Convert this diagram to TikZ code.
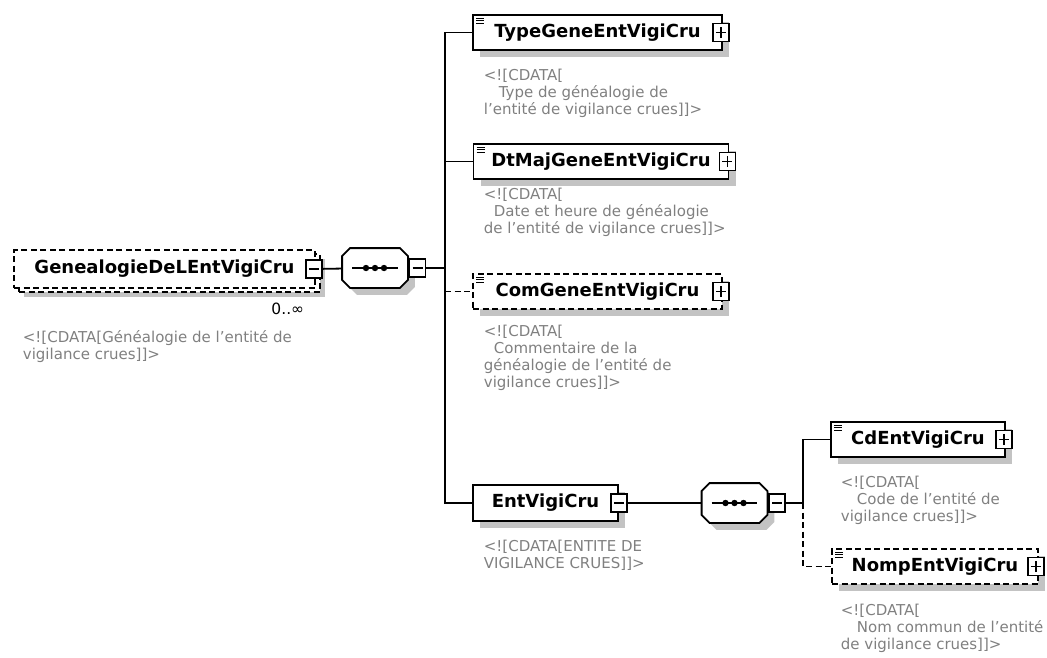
\documentclass[tikz,border=0pt]{standalone}
\usepackage{fontspec}
\setmainfont{DejaVu Sans}
\usetikzlibrary{positioning,shadows}

\definecolor{notegray}{RGB}{128,128,128}
\definecolor{shadegray}{RGB}{195,195,195}

% sequence compositor drawn round an empty node
\newcommand{\seqoutline}[1]{%
  \draw[fill=white, boxshadow] ([xshift=8]#1.north west) -- ([xshift=-8]#1.north east) -- ([yshift=-8]#1.north east) -- ([yshift=8]#1.south east) -- ([xshift=-8]#1.south east) -- ([xshift=8]#1.south west) -- ([yshift=8]#1.south west) -- ([yshift=-8]#1.north west) -- cycle;
  \draw ([xshift=10]#1.west) -- ([xshift=-10]#1.east);
  \foreach \d in {-9,0,9} \fill ([xshift=\d]#1.center) circle[radius=3.2];
}
% small mark of a simple element
\newcommand{\leafmark}[1]{%
  \draw[line width=1.2pt] \foreach \k in {4,6.5,9} {([shift={(4,\k)}]#1.north west) -- ++(8,0)};
}

\begin{document}
\begin{tikzpicture}[
    x=1pt, y=-1pt, line width=1.8pt,
    elem/.style={draw, fill=white, minimum height=35, inner sep=0pt, font=\bfseries\fontsize{18}{20}\selectfont},
    optelem/.style={elem, dash pattern=on 6pt off 3.5pt},
    boxshadow/.style={drop shadow={shadow xshift=7pt, shadow yshift=-7pt, fill=shadegray, opacity=1}},
    pmbox/.style={draw, fill=white, line width=1.5pt, minimum width=16, minimum height=18, inner sep=0pt},
    minusbox/.style={pmbox, path picture={\draw[line width=1.5pt] ([xshift=3]path picture bounding box.west) -- ([xshift=-3]path picture bounding box.east);}},
    plusbox/.style={pmbox, path picture={\draw[line width=1.5pt] ([xshift=3]path picture bounding box.west) -- ([xshift=-3]path picture bounding box.east) ([yshift=3.5]path picture bounding box.south) -- ([yshift=-3.5]path picture bounding box.north);}},
    seqnode/.style={minimum width=64, minimum height=38, inner sep=0pt},
    note/.style={anchor=north west, align=left, inner sep=0pt, text=notegray, font=\fontsize{15}{17}\selectfont},
    mult/.style={inner sep=0pt, font=\fontsize{15.5}{17}\selectfont},
    optline/.style={dash pattern=on 6pt off 3.5pt}
]
\useasboundingbox (0,0) rectangle (1047,657);

% root element
\node[optelem, minimum width=301, minimum height=38, drop shadow={shadow xshift=5pt, shadow yshift=-5pt, fill=shadegray, opacity=1}] (rootback) at (169.5,273) {};
\node[optelem, minimum width=301, minimum height=38] (root) at (164.5,269) {GenealogieDeLEntVigiCru};
\node[minusbox] (rootpm) at ([xshift=-2]root.east) {};
\node[mult, anchor=north east] (rootmult) at (305,302) {0..∞};
\node[note] (rootnote) at (22,330) {<![CDATA[Généalogie de l'entité de\\vigilance crues]]>};

% first sequence
\node[seqnode] (seq1) at (375,268) {};
\seqoutline{seq1}
\node[minusbox, right=1pt of seq1] (seq1pm) {};
\coordinate (bus1) at (445,268);

% children
\node[elem, boxshadow, minimum width=249] (typebox) at (597.5,32.5) {TypeGeneEntVigiCru};
\leafmark{typebox}
\node[plusbox] (typepm) at ([xshift=-2]typebox.east) {};
\node[note] (typenote) at (483,68) {<![CDATA[\\\hspace*{15pt}Type de généalogie de\\l'entité de vigilance crues]]>};

\node[elem, boxshadow, minimum width=255] (dtmajbox) at (601,161.5) {DtMajGeneEntVigiCru};
\leafmark{dtmajbox}
\node[plusbox] (dtmajpm) at ([xshift=-2]dtmajbox.east) {};
\node[note] (dtmajnote) at (483,187) {<![CDATA[\\\hspace*{10pt}Date et heure de généalogie\\de l'entité de vigilance crues]]>};

\node[optelem, boxshadow, minimum width=249] (comgenebox) at (597.5,291.5) {ComGeneEntVigiCru};
\leafmark{comgenebox}
\node[plusbox] (comgenepm) at ([xshift=-2]comgenebox.east) {};
\node[note] (comgenenote) at (483,324) {<![CDATA[\\\hspace*{10pt}Commentaire de la\\généalogie de l'entité de\\vigilance crues]]>};

\node[elem, boxshadow, minimum width=145, minimum height=36] (entvbox) at (545.5,503) {EntVigiCru};
\node[minusbox] (entvpm) at (entvbox.east) {};
\node[note] (entvnote) at (483,539) {<![CDATA[ENTITE DE\\VIGILANCE CRUES]]>};

% second sequence
\node[seqnode] (seq2) at (734.5,503) {};
\seqoutline{seq2}
\node[minusbox, right=1pt of seq2] (seq2pm) {};
\coordinate (bus2) at (803,503);

\node[elem, boxshadow, minimum width=174] (cdbox) at (918,439.5) {CdEntVigiCru};
\leafmark{cdbox}
\node[plusbox] (cdpm) at ([xshift=-2]cdbox.east) {};
\node[note] (cdnote) at (840,475) {<![CDATA[\\\hspace*{16pt}Code de l'entité de\\vigilance crues]]>};

\node[optelem, boxshadow, minimum width=206] (nompbox) at (935,566.5) {NompEntVigiCru};
\leafmark{nompbox}
\node[plusbox] (nomppm) at ([xshift=-3]nompbox.east) {};
\node[note] (nompnote) at (840,603) {<![CDATA[\\\hspace*{16pt}Nom commun de l'entité\\de vigilance crues]]>};

% connectors
\draw (rootpm) -- (seq1);
\draw (seq1pm) -- (bus1);
\draw (bus1) |- (typebox);
\draw (bus1) |- (dtmajbox);
\draw (bus1) |- (entvbox);
\draw[optline] (bus1 |- comgenebox.west) -- (comgenebox.west);
\draw (entvpm) -- (seq2);
\draw (seq2pm) -- (bus2);
\draw (bus2) |- (cdbox);
\draw[optline] (bus2) |- (nompbox);

\end{tikzpicture}
\end{document}
